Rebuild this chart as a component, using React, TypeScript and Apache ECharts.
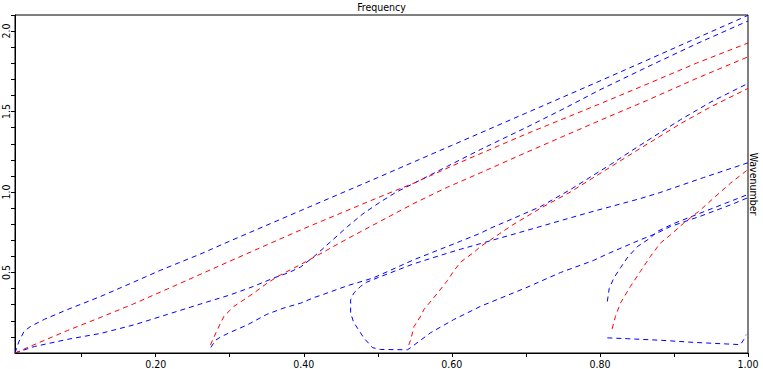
import React, { useEffect, useRef } from 'react';
import * as echarts from 'echarts';

const xTickValues = [0.1, 0.2, 0.3, 0.4, 0.5, 0.6, 0.7, 0.8, 0.9, 1.0];
const xLabelValues = [0.2, 0.4, 0.6, 0.8, 1.0];
const yTickValues = [0.1, 0.2, 0.3, 0.4, 0.5, 0.6, 0.7, 0.8, 0.9, 1.0, 1.1, 1.2, 1.3, 1.4, 1.5, 1.6, 1.7, 1.8, 1.9, 2.0, 2.1];
const yLabelValues = [0.5, 1.0, 1.5, 2.0];

const blueA = [
  [0.01, 0.0], [0.0155, 0.073], [0.0223, 0.135], [0.0313, 0.166], [0.05, 0.21], [0.081, 0.27],
  [0.126, 0.352], [0.17, 0.44], [0.207, 0.515], [0.261, 0.616], [0.3, 0.695], [0.396, 0.885],
  [0.5, 1.09], [0.6, 1.29], [0.7, 1.49], [0.8, 1.69], [0.864, 1.82], [0.93, 1.955], [1.0, 2.098],
];
const redR1 = [
  [0.01, 0.0], [0.035, 0.05], [0.081, 0.14], [0.126, 0.222], [0.17, 0.305], [0.216, 0.398],
  [0.261, 0.49], [0.3, 0.57], [0.396, 0.765], [0.5, 0.965], [0.549, 1.056], [0.612, 1.186],
  [0.7, 1.36], [0.8, 1.548], [0.866, 1.675], [0.93, 1.8], [1.0, 1.926],
];
const blueB = [
  [0.01, 0.0], [0.036, 0.04], [0.081, 0.085], [0.126, 0.122], [0.171, 0.175], [0.216, 0.24],
  [0.261, 0.305], [0.3, 0.36], [0.33, 0.41], [0.359, 0.465], [0.38, 0.5], [0.396, 0.535],
  [0.414, 0.6], [0.436, 0.69], [0.459, 0.785], [0.48, 0.865], [0.504, 0.94], [0.525, 1.0],
  [0.549, 1.055], [0.594, 1.16], [0.639, 1.265], [0.7, 1.4], [0.75, 1.515], [0.8, 1.635],
  [0.864, 1.777], [0.93, 1.92], [1.0, 2.063],
];
const redR2 = [
  [0.274, 0.05], [0.2833, 0.145], [0.2922, 0.228], [0.3057, 0.29], [0.3192, 0.331], [0.3327, 0.373],
  [0.3508, 0.435], [0.3688, 0.486], [0.3868, 0.528], [0.414, 0.595], [0.459, 0.71], [0.504, 0.82],
  [0.549, 0.93], [0.594, 1.03], [0.639, 1.12], [0.7, 1.245], [0.8, 1.445], [0.864, 1.57],
  [0.93, 1.705], [1.0, 1.84],
];
const blueC = [
  [0.2745, 0.035], [0.281, 0.08], [0.288, 0.1], [0.3015, 0.13], [0.324, 0.175], [0.35, 0.24],
  [0.3733, 0.28], [0.396, 0.31], [0.414, 0.345], [0.4228, 0.358], [0.459, 0.418], [0.493, 0.465],
  [0.504, 0.487], [0.549, 0.58], [0.594, 0.662], [0.612, 0.695], [0.639, 0.745], [0.652, 0.775],
  [0.68, 0.83], [0.72, 0.91], [0.76, 1.015], [0.814, 1.17], [0.854, 1.29], [0.909, 1.45],
  [0.95, 1.56], [1.0, 1.675],
];
const redR3 = [
  [0.5418, 0.05], [0.5443, 0.08], [0.549, 0.165], [0.558, 0.23], [0.5623, 0.27], [0.5803, 0.37],
  [0.594, 0.45], [0.6027, 0.51], [0.6118, 0.565], [0.6297, 0.625], [0.6388, 0.662], [0.6523, 0.703],
  [0.68, 0.79], [0.72, 0.9], [0.76, 1.0], [0.814, 1.155], [0.854, 1.27], [0.909, 1.425],
  [0.95, 1.53], [1.0, 1.644],
];
const blueLoop = [
  [1.0, 1.182], [0.94, 1.09], [0.88, 0.995], [0.855, 0.96], [0.783, 0.87], [0.7, 0.76],
  [0.639, 0.68], [0.612, 0.645], [0.594, 0.62], [0.549, 0.555], [0.504, 0.475],
  [0.485, 0.44], [0.4768, 0.414], [0.4677, 0.373], [0.4633, 0.331], [0.4633, 0.25], [0.4674, 0.19],
  [0.4768, 0.125], [0.4808, 0.095], [0.493, 0.033], [0.5038, 0.022], [0.54, 0.02], [0.5443, 0.033],
  [0.5713, 0.126], [0.6023, 0.207], [0.6388, 0.29], [0.7, 0.405], [0.7468, 0.5], [0.7913, 0.575],
  [0.8098, 0.615], [0.8503, 0.695], [0.8773, 0.745], [0.8953, 0.786], [0.9358, 0.85],
  [0.9763, 0.92], [1.0, 0.965],
];
const blueHook = [
  [0.81, 0.32], [0.8125, 0.4], [0.8187, 0.465], [0.8278, 0.53], [0.8368, 0.59], [0.8503, 0.66],
  [0.8682, 0.715], [0.8773, 0.755], [0.9, 0.805], [0.95, 0.895], [1.0, 0.985],
];
const redR4 = [
  [0.8165, 0.15], [0.821, 0.228], [0.8278, 0.311], [0.8413, 0.414], [0.8547, 0.507], [0.8682, 0.6],
  [0.8817, 0.683], [0.8953, 0.734], [0.9132, 0.807], [0.9358, 0.889], [0.9583, 0.982],
  [0.9763, 1.055], [1.0, 1.14],
];
const blueBottom = [
  [0.81, 0.094], [0.8368, 0.089], [0.8827, 0.079], [0.9268, 0.066], [0.9718, 0.056],
  [0.9898, 0.052], [0.9942, 0.083], [0.9975, 0.114],
];

const blueCurves = [blueA, blueB, blueC, blueLoop, blueHook, blueBottom];
const redCurves = [redR1, redR2, redR3, redR4];

const FONT = "'DejaVu Sans Condensed', 'DejaVu Sans', sans-serif";
const FS = 10.5;

export default function App() {
  const ref = useRef<HTMLDivElement>(null);
  useEffect(() => {
    const chart = echarts.init(ref.current!, null, { renderer: 'svg' });
    const mk = (data: number[][], color: string) => ({
      type: 'line',
      data,
      showSymbol: false,
      symbol: 'none',
      smooth: false,
      lineStyle: { color, width: 1, type: [5, 4] },
      emphasis: { disabled: true },
    });
    chart.setOption({
      animation: false,
      backgroundColor: '#fff',
      title: {
        text: 'Frequency',
        left: 'center',
        top: 1,
        padding: 0,
        textStyle: { fontSize: FS, fontWeight: 'normal', color: '#000', fontFamily: FONT },
      },
      grid: {
        left: 14, right: 15, top: 15, bottom: 16,
        show: true, borderColor: '#000', borderWidth: 1,
      },
      xAxis: {
        type: 'value', min: 0.01, max: 1,
        axisLine: { show: true, lineStyle: { color: '#000', width: 1 } },
        axisTick: { show: true, length: 4, customValues: xTickValues, lineStyle: { color: '#000' } },
        axisLabel: {
          customValues: xLabelValues, margin: 5,
          formatter: (v: number) => v.toFixed(2),
          color: '#000', fontSize: FS, fontFamily: FONT,
        },
        splitLine: { show: false },
      },
      yAxis: {
        type: 'value', min: 0, max: 2.1,
        axisLine: { show: true, lineStyle: { color: '#000', width: 1 } },
        axisTick: { show: true, length: 4, customValues: yTickValues, lineStyle: { color: '#000' } },
        axisLabel: {
          customValues: yLabelValues, margin: 4, rotate: 90,
          formatter: (v: number) => v.toFixed(1),
          color: '#000', fontSize: FS, fontFamily: FONT,
        },
        splitLine: { show: false },
      },
      graphic: [
        {
          type: 'text', x: 754, y: 184, rotation: -Math.PI / 2,
          style: {
            text: 'Wavenumber', align: 'center', verticalAlign: 'middle',
            fontSize: FS, fontFamily: FONT, fill: '#000',
          },
        },
      ],
      series: [
        ...blueCurves.map((c) => mk(c, '#0000ff')),
        ...redCurves.map((c) => mk(c, '#ff0000')),
      ],
    });
    return () => chart.dispose();
  }, []);
  return (
    <div
      ref={ref}
      style={{ position: 'fixed', left: 0, top: 0, width: 763, height: 369, background: '#fff' }}
    />
  );
}
